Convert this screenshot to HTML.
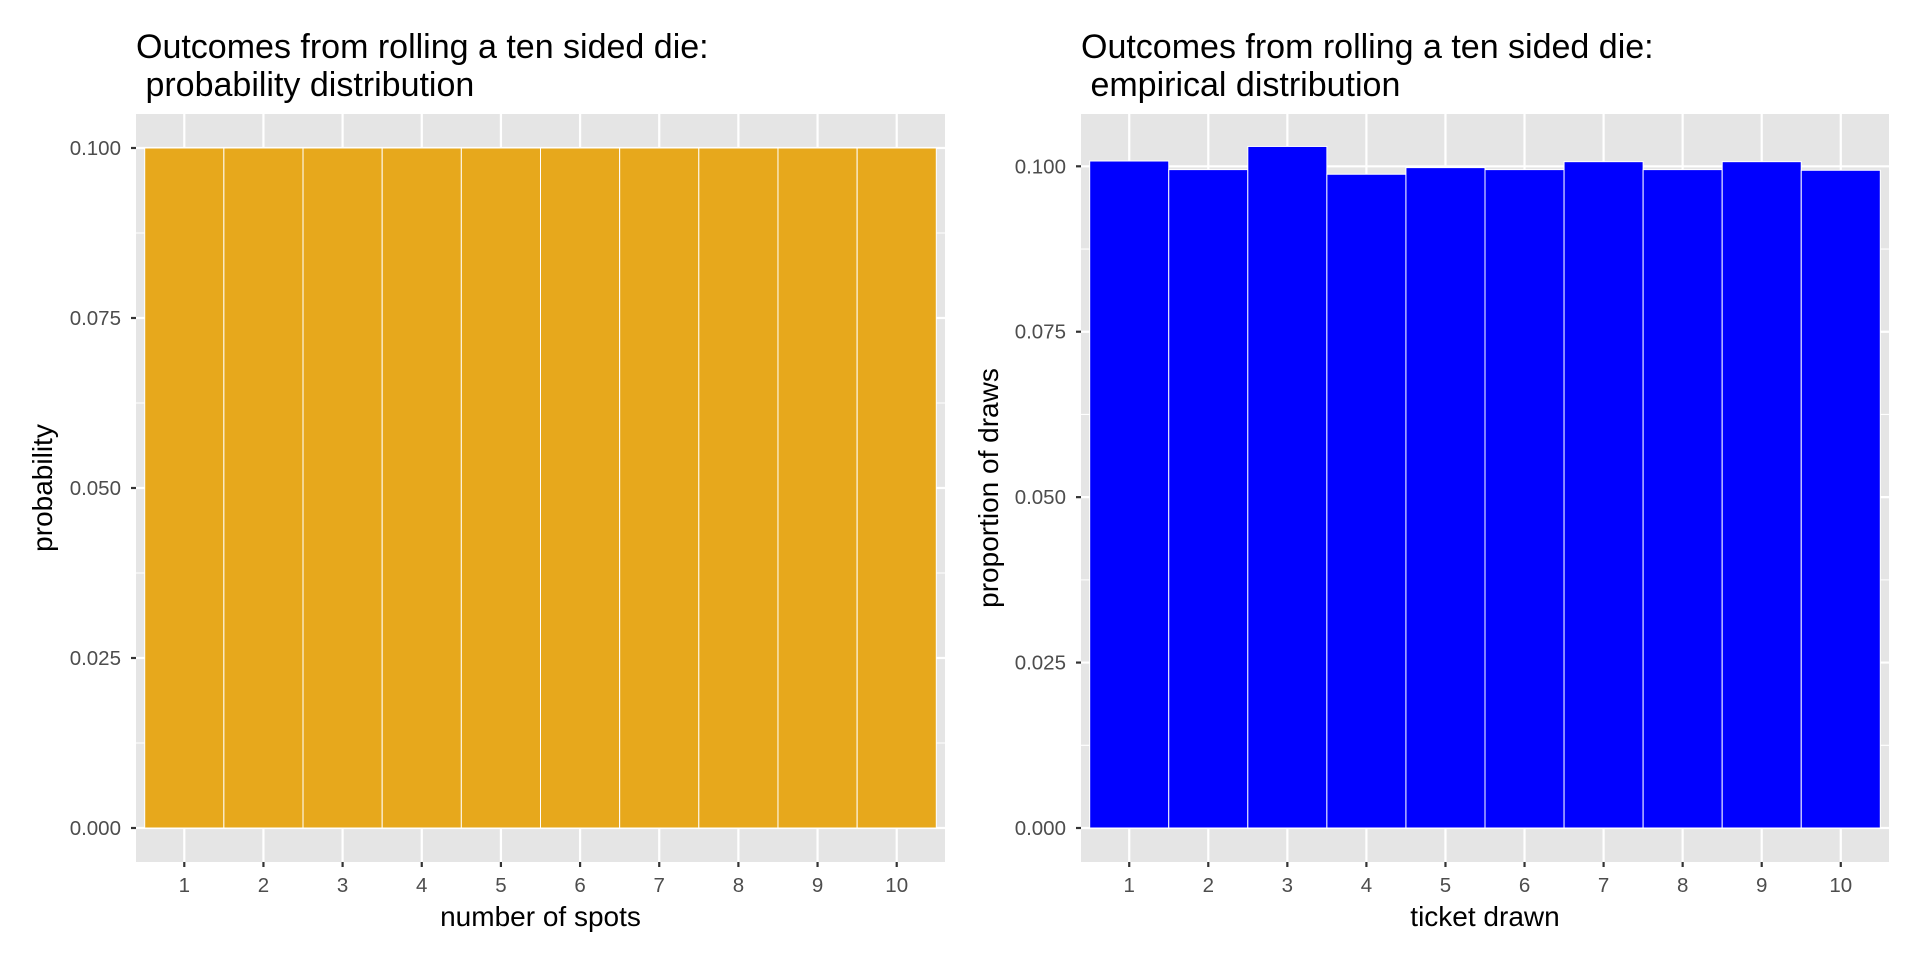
<!DOCTYPE html>
<html><head><meta charset="utf-8"><style>
body{margin:0;background:#fff;}
svg{display:block;font-family:"Liberation Sans",sans-serif;}
</style></head><body>
<svg id="chart" width="1920" height="960" xmlns="http://www.w3.org/2000/svg"></svg>
<script>
const categories = [1,2,3,4,5,6,7,8,9,10];
const probValues = [0.1,0.1,0.1,0.1,0.1,0.1,0.1,0.1,0.1,0.1];
const empValues = [0.1008,0.0995,0.1030,0.0988,0.0998,0.0995,0.1007,0.0995,0.1007,0.0994];
const yTicks = [0,0.025,0.05,0.075,0.1];
const yTickLabels = ["0.000","0.025","0.050","0.075","0.100"];

const NS="http://www.w3.org/2000/svg";
const svg=document.getElementById('chart');
function mk(tag,attrs,parent){const e=document.createElementNS(NS,tag);for(const k in attrs)e.setAttribute(k,attrs[k]);(parent||svg).appendChild(e);return e;}

function panel(cfg){
  const g=mk('g',{});
  
  
  const L=cfg.left,R=cfg.right,T=114,B=862;
  const xs=v=>L+(v-0.39)/(10.22)*(R-L);
  const ys=v=>828-v*cfg.k;
  const bg=mk('rect',{x:L,y:T,width:R-L,height:B-T,fill:'#e5e5e5'},g);
  
  
  for(let i=0;i<yTicks.length-1;i++){
    const y=ys((yTicks[i]+yTicks[i+1])/2);
    mk('line',{x1:L,x2:R,y1:y,y2:y,stroke:'#fff','stroke-width':1.1},g);
  }
  const ytop=ys(yTicks[yTicks.length-1]+0.0125);
  if(ytop>T) mk('line',{x1:L,x2:R,y1:ytop,y2:ytop,stroke:'#fff','stroke-width':1.1},g);
  yTicks.forEach((t,i)=>{
    const y=ys(t);
    mk('line',{x1:L,x2:R,y1:y,y2:y,stroke:'#fff','stroke-width':2.2},g);
    mk('line',{x1:L-5,x2:L,y1:y,y2:y,stroke:'#333','stroke-width':2.2},g);
    const tx=mk('text',{x:L-15,y:y+7,'text-anchor':'end','font-size':20.5,fill:'#4d4d4d'},g);
    tx.textContent=yTickLabels[i];
    
    
  });
  categories.forEach(c=>{
    const x=xs(c);
    mk('line',{x1:x,x2:x,y1:T,y2:B,stroke:'#fff','stroke-width':2.2},g);
    mk('line',{x1:x,x2:x,y1:B,y2:B+5,stroke:'#333','stroke-width':2.2},g);
    const tx=mk('text',{x:x,y:892,'text-anchor':'middle','font-size':20.5,fill:'#4d4d4d'},g);
    tx.textContent=String(c);
    
    
  });
  cfg.values.forEach((v,i)=>{
    const x0=xs(categories[i]-0.5),x1=xs(categories[i]+0.5);
    const r=mk('rect',{x:x0,y:ys(v),width:x1-x0,height:ys(0)-ys(v),fill:cfg.color,stroke:'#fff','stroke-width':1},g);
    
    
  });
  const t1=mk('text',{x:L,y:58,'font-size':34,fill:'#000'},g);
  t1.textContent='Outcomes from rolling a ten sided die:';
  
  
  const t2=mk('text',{x:L,y:96,'font-size':34,fill:'#000'},g);
  t2.setAttribute('style','white-space:pre');
  t2.textContent=' '+cfg.sub;
  
  
  const xt=mk('text',{x:(L+R)/2,y:926,'text-anchor':'middle','font-size':28,fill:'#000'},g);
  xt.textContent=cfg.xlab;
  
  
  const cy=(T+B)/2;
  const yt=mk('text',{x:cfg.ylx,y:cy,'text-anchor':'middle','font-size':28,fill:'#000',transform:`rotate(-90 ${cfg.ylx} ${cy})`},g);
  yt.textContent=cfg.ylab;
  
  
}
panel({name:'probability-panel',left:136,right:945,k:6800,values:probValues,color:'#e7a81c',sub:'probability distribution',xlab:'number of spots',ylab:'probability',ylx:52});
panel({name:'empirical-panel',left:1081,right:1889,k:6617,values:empValues,color:'#0000ff',sub:'empirical distribution',xlab:'ticket drawn',ylab:'proportion of draws',ylx:998});
</script>
</body></html>
